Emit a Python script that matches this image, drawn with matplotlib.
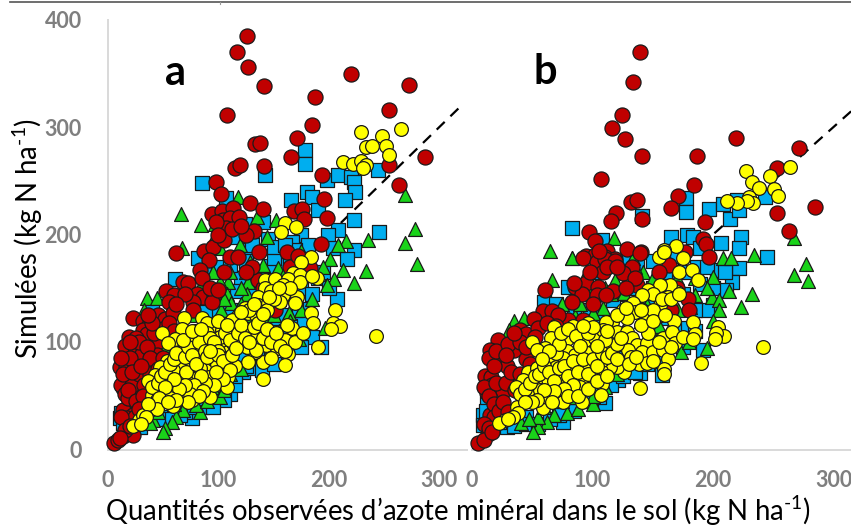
import matplotlib
matplotlib.use('Agg')
import matplotlib.pyplot as plt
from matplotlib.lines import Line2D

plt.rcParams['font.family'] = ['Lato', 'DejaVu Sans']
plt.rcParams['mathtext.fontset'] = 'custom'
plt.rcParams['mathtext.rm'] = 'Lato'
plt.rcParams['mathtext.default'] = 'regular'

x_ticks = [0, 100, 200, 300]
y_ticks = [0, 100, 200, 300, 400]
x_label = "Quantités observées d’azote minéral dans le sol (kg N ha$^{\\text{-1}}$)"
y_label = "Simulées (kg N ha$^{\\text{-1}}$)"

# panel a
a_red_x = [125.5, 117, 127, 141.5, 107.4, 187, 220, 272.7, 254.6, 185, 171.3, 133, 138, 166, 115, 119.5, 141.5, 286.9,
           254.6, 194, 263.3, 97.4, 102.6, 129, 140.6, 195.5, 168.6, 176, 177.7, 198, 93.8, 102.9, 112.8, 104.4, 110.4,
           119, 106.8, 132, 125, 192.5, 162.3, 137, 61.5, 87, 95.4, 91.7, 110, 118, 83.2, 105, 67.6, 72.7, 52.5, 59.7,
           55.5, 80.2, 86.3, 96, 93.8, 76.6, 76.6, 23, 32, 45.5, 51.5, 59, 37.5, 32, 35, 19.3, 25.4, 15.4, 24.1, 30.5,
           44, 44, 10.8, 16.2, 24.4, 17.5, 13.9, 26, 35, 30.5, 20, 13.9, 23, 13.9, 5.7, 9.4, 18.4, 16.9, 41, 151, 136,
           182.8, 23,
           12, 15, 18, 22, 28, 33, 38, 20, 14, 28, 20, 35, 38, 42, 50, 55, 60, 18, 25, 32, 24, 12, 15, 11, 20, 28, 40, 36,
           12, 22, 30, 45, 50, 105, 112, 98, 120, 100, 85, 92, 100, 70, 62, 130, 125, 140, 150, 165, 172]
a_red_y = [384.6, 369.8, 356, 338, 311, 328, 349, 339, 316, 301.5, 290, 284, 285.5, 272.5, 262, 265, 263.7, 272.5,
           264.7, 255, 246, 249, 237.7, 229, 223.7, 232.8, 222, 224, 214, 215, 219, 222, 225, 213.6, 215, 216.5, 206,
           203, 199.6, 191.5, 183.4, 183.4, 182.5, 185, 188, 176, 179, 179, 167, 165.4, 155.5, 154.6, 147.8, 143.7,
           137.5, 145, 142, 143.7, 137.5, 137.5, 130, 122, 120, 125, 121, 126.7, 116, 111.6, 107.4, 105, 103.4, 96, 95,
           88.8, 100, 88, 77, 77, 75.5, 66, 57, 58.4, 67.8, 46, 42.3, 36.7, 32, 12.6, 5.7, 8.8, 16.6, 29, 78.6, 130, 158,
           168.5, 13.4,
           60, 52, 48, 60, 70, 60, 70, 85, 70, 100, 100, 95, 85, 108, 112, 118, 110, 55, 45, 50, 30, 30, 18, 11, 22, 38, 118,
           125, 85, 72, 78, 75, 85, 195, 205, 212, 208, 200, 160, 150, 148, 145, 135, 170, 165, 150, 145, 170, 180]

a_blue_x = [84.8, 142, 178, 178, 198, 208.5, 220, 244, 223, 224, 214.5, 180, 184.6, 165.6, 190, 223, 208, 245.5, 199.4,
            175, 167, 181, 145, 140.6, 124, 115, 107, 223, 204, 169, 127, 216.6, 81.7, 60.6, 207, 120, 154, 146, 117,
            132, 180, 175, 152, 122, 131.5, 139, 192.5, 110, 105, 84.7, 75.7, 10.8, 12.2, 39.5, 95, 87.7, 152, 122.5,
            146.6, 28.9, 100, 110, 130, 160, 70, 60, 50, 95, 115, 40,
            90, 100, 110, 125, 135, 145, 155, 165, 175, 185, 190, 170, 165, 185, 160, 175, 135, 125, 115, 105, 95, 85, 75,
            65, 55, 45, 30, 20, 14, 100, 120, 140, 150, 110, 90, 70, 60, 80, 95, 110, 125, 140, 160, 170, 180, 195, 200,
            150, 130, 150, 165, 160]
a_blue_y = [247.6, 255, 279, 265.5, 251, 255.4, 253.7, 260, 249, 240, 232, 240, 234.6, 232, 222.8, 213.5, 204, 202,
            199.6, 200, 193, 190, 195.5, 212, 210, 198, 233.7, 186, 187, 185.6, 185.6, 177, 178, 159, 139.7, 160, 171.6,
            171, 147, 145, 131, 120, 116, 72.4, 75.5, 74, 95.6, 52, 46, 39.8, 29, 29, 33.6, 132.8, 130, 128, 122, 92.5,
            83, 21, 66, 84, 120, 150, 35, 45, 30, 40, 60, 28,
            165, 170, 172, 175, 165, 155, 150, 145, 150, 145, 160, 130, 115, 105, 100, 95, 90, 78, 68, 60, 55, 48, 40, 32,
            28, 28, 32, 30, 25, 75, 88, 100, 80, 95, 70, 55, 62, 95, 115, 130, 125, 125, 125, 165, 175, 165, 150, 178, 190,
            188, 175, 190]

a_green_x = [65.8, 83.9, 118, 268.8, 277.8, 268.8, 235, 215.4, 208.5, 201, 134.5, 152, 143.6, 119.5, 95.4, 101.4, 66.7,
             96.8, 115.8, 280, 233.5, 223, 213, 205, 198, 128.5, 140, 153.5, 127, 109, 108, 126, 111, 101.5, 35, 44,
             32.6, 102, 164, 196, 83, 80, 101, 94, 68, 62, 57.6, 51.5, 50, 41, 173, 144, 52, 74, 90, 130, 70, 120, 155,
             85,
             110, 120, 135, 150, 115, 100, 90, 75, 60, 55, 50, 70, 85, 95, 110, 120, 80, 70, 60, 90, 105, 45, 38, 130, 145,
             165, 175, 185, 155, 140, 125, 95, 85, 105, 195, 175, 160, 150]
a_green_y = [219, 209, 235, 236.8, 204.8, 191.8, 195, 194, 190, 177, 216, 213.5, 198, 190, 195, 187, 187, 210, 207, 173,
             166, 155, 167, 159, 153, 174.8, 171.6, 168.5, 155.5, 155.5, 145, 145, 136.6, 156, 141, 141, 130, 130,
             126.7, 112.7, 35, 41, 49, 58, 36.7, 30.5, 26, 19.7, 16.6, 27, 103, 119, 97, 148, 105, 125, 65, 135, 110, 150,
             165, 150, 135, 125, 125, 110, 120, 125, 100, 85, 75, 75, 65, 75, 70, 75, 55, 48, 42, 45, 55, 35, 25, 95, 90,
             120, 130, 140, 140, 155, 165, 165, 155, 140, 170, 185, 165, 105]

a_yellow_x = [228.7, 265, 248, 233.5, 239, 251.6, 254.6, 213, 221.4, 229, 234, 230.5, 160, 170, 157, 183.4, 175, 142,
              151, 167.7, 173.8, 163, 158.7, 173.8, 189, 184.6, 142, 148, 158.7, 171, 156, 169, 136, 136, 145, 124, 127,
              134, 143.6, 116.4, 112, 84.7, 69, 66.7, 49, 61, 54.7, 79, 94.4, 103, 89.3, 113, 121, 128.5, 137.6, 146.6,
              133, 118.6, 103, 78.7, 86.3, 95.4, 109, 143, 152.7, 160, 169, 167, 161.7, 184, 185.8, 176.8, 205.5, 204,
              210, 201.8, 242.5, 190, 163, 160, 140.6, 140, 148, 133, 127, 115, 109, 107.4, 92.3, 101.4, 92.3, 91, 80,
              84.2, 95.4, 107.4, 66.7, 65, 67.4, 53, 47, 42.6, 53, 36.5, 66.7, 60, 72.7, 50, 39.5, 53, 49, 69.7, 77, 75.7,
              65, 59, 42.6, 38, 28, 23, 32, 74, 83, 101.4, 113, 125.4, 134.4, 89.3, 75.7, 98.4, 59, 83.2, 71, 45, 44,
              40, 45, 48, 52, 56, 60, 62, 70, 72, 76, 80, 82, 88, 90, 92, 96, 100, 100, 104, 106, 110, 112, 116, 118, 120,
              124, 128, 132, 136, 140, 144, 148, 152, 156, 160, 128, 132, 120, 140, 150, 165, 155, 146, 110, 104, 98, 96,
              88, 84, 78, 74, 70, 64, 60, 56, 52, 46, 44, 36, 34, 30, 86, 82, 72, 62, 54, 92, 68, 76, 84, 100, 108]
a_yellow_y = [295.6, 298, 291.6, 281, 282, 282, 274, 267, 265.5, 268.6, 264.7, 261.6, 211, 207, 202.6, 178.7, 174.7, 158,
              159, 163.8, 162, 159, 153, 156, 160, 161, 150, 147, 143.7, 142, 137.5, 136, 141.5, 134.4, 136.6, 132, 126.7,
              125, 130, 123.6, 120.5, 122.6, 122, 112, 108, 102.5, 98.8, 110.5, 111.8, 111, 117.4, 111, 110, 111, 110,
              106.5, 103.4, 101, 98, 95.7, 100, 95.7, 91, 97, 94, 102, 100, 113, 116, 126.7, 117.4, 108.7, 129.8, 118, 115,
              111.8, 106, 95.7, 88.8, 78.6, 66, 81.7, 84.8, 91, 81.7, 78, 67.7, 57.8, 49, 72.4, 74.6, 67.7, 67.7, 84, 84,
              84.8, 91, 80, 77, 82.6, 77, 69.3, 67.7, 64, 66, 60, 61.5, 58.4, 50.7, 52, 49, 55.3, 55, 46, 52, 40.8, 41.4,
              36.7, 27.4, 22, 32, 102, 89.5, 105, 98.8, 95.7, 92.5, 108, 78.6, 80, 74, 75.5, 72.4, 55, 46,
              58, 62, 68, 72, 80, 84, 90, 86, 95, 88, 80, 100, 92, 86, 104, 100, 92, 88, 82, 108, 102, 88, 94, 108, 116,
              104, 100, 114, 118, 104, 112, 100, 108, 96, 92, 130, 135, 128, 126, 140, 150, 150, 142, 74, 66, 72, 60, 62,
              68, 60, 52, 60, 56, 66, 48, 58, 48, 38, 42, 30, 24, 54, 50, 44, 46, 44, 92, 102, 110, 112, 120, 116]

# panel b
b_red_x = [139.7, 133.6, 124.8, 116, 127, 140.8, 186.4, 219, 271, 253.4, 106.8, 184.5, 170.7, 165.4, 132, 137.2, 119.2,
           115.6, 140.8, 193, 285, 253.4, 262.8, 97, 102, 128.4, 140, 192, 194, 197, 176.8, 111.8, 95, 102, 110.4, 118.7,
           92.4, 103.4, 110, 118.7, 109, 132.5, 125, 163.8, 139.4, 60.9, 85.5, 94.4, 104.3, 136.7, 91, 83.3, 103.4,
           117.3, 110.9, 58.6, 66.7, 51.7, 39.8, 44.8, 55, 21.9, 36.5, 15, 23.8, 34.9, 14.1, 24.1, 28.8, 44.5, 10.8, 15.5,
           16.3, 12.2, 26, 19.9, 15, 33, 13.5, 5.3, 150.5, 179.5, 80, 92.4, 71.6,
           10, 14, 18, 20, 28, 32, 18, 20, 30, 28, 40, 45, 52, 35, 62, 70, 18, 22, 26, 10, 14, 10, 17, 30, 36, 40, 48, 100,
           85, 98, 105, 112, 120, 135, 128, 140, 155, 165, 170, 180, 155]
b_red_y = [369.5, 342, 311.5, 298.8, 288.5, 273.3, 273.3, 289.4, 280.8, 261.9, 251.6, 245.7, 235.8, 225, 230.6, 232,
           220.3, 212.9, 214.4, 212, 226, 219.8, 203.6, 202.6, 194.3, 186.5, 183.4, 195.5, 191, 179.4, 184, 185, 180, 181,
           179, 177, 178, 174.7, 177, 175.7, 165.4, 169.5, 164, 171.6, 182.5, 148.4, 151.5, 155, 151.5, 153, 144.6, 136.9,
           143.7, 147.8, 143.7, 128.9, 128.9, 121.4, 111, 107.4, 112.7, 101.9, 99, 92.5, 89.5, 92.5, 84.8, 82.6, 77.7,
           83.9, 68.4, 67.7, 60, 52.2, 54.7, 38.3, 32, 67.7, 14, 6.4, 122, 139.6, 120.5, 120.5, 125,
           58, 50, 42, 62, 62, 72, 78, 92, 98, 88, 100, 95, 105, 108, 118, 115, 30, 36, 44, 24, 20, 9, 16, 35, 55, 70, 80,
           135, 155, 165, 185, 170, 170, 160, 150, 130, 125, 130, 150, 130, 165]

b_blue_x = [83.3, 107.6, 141.4, 177.6, 177.6, 196.4, 208, 214, 221.9, 219.6, 243, 164.9, 178, 183.7, 189, 207, 223, 221.9,
            245, 221.9, 216, 203, 200, 211, 192, 175.4, 80, 59.8, 189, 125.6, 121.4, 139.4, 110.4, 158, 105.7, 9.4, 9.4,
            75.2, 28.8, 12.2, 120, 161.5, 98, 117.3, 147.7, 179.5, 136.7, 186.4, 90, 60, 45, 130, 110, 150, 75,
            12, 16, 22, 35, 45, 55, 65, 72, 85, 95, 105, 115, 125, 135, 145, 155, 175, 185, 195, 185, 175, 165, 160, 150,
            125, 100, 90, 70, 85, 105, 130, 150, 160, 150, 125, 110, 95, 80, 145, 200, 195, 210, 170, 180]
b_blue_y = [205.8, 195, 217, 233.6, 221, 223.4, 228, 214, 223, 232, 235, 197.4, 199.6, 197.4, 187, 191.8, 197.9, 187,
            178.8, 168.5, 156, 167, 134.4, 148, 92.5, 111, 150.8, 137.5, 154, 95.7, 64.6, 70.8, 43.6, 69, 49, 32, 22.8,
            25.9, 21, 43, 145, 122, 130, 139, 111, 112.7, 171.6, 170, 60, 45, 30, 80, 60, 120, 50,
            36, 28, 26, 22, 24, 24, 28, 32, 36, 45, 55, 60, 68, 72, 80, 84, 95, 110, 130, 130, 145, 155, 165, 175, 175, 165,
            150, 135, 130, 125, 150, 150, 105, 105, 85, 70, 60, 50, 140, 150, 170, 165, 180, 165]

b_green_x = [64.7, 117.8, 267.5, 234, 208, 214.7, 83.3, 133.9, 277, 267.5, 279, 232.7, 213, 200.3, 198.9, 205, 205, 223,
             194.7, 173.5, 66, 94.6, 82.7, 142, 126, 118.7, 109, 100.7, 34.9, 43, 31, 85.5, 100.7, 78.6, 68, 62, 55, 50.9,
             41, 185, 180.9, 171, 145, 147.7, 84,
             90, 100, 115, 130, 140, 155, 165, 125, 108, 95, 80, 70, 60, 75, 88, 100, 110, 120, 135, 150, 170, 180, 160,
             150, 135, 110, 75, 55, 47, 60, 195, 185, 170, 160, 90, 200]
b_green_y = [184.9, 196.4, 196.4, 180.9, 177.8, 177.8, 177.8, 177.8, 172.6, 162.3, 157, 144.6, 147.7, 160.8, 141.5, 139,
             129.8, 132.8, 94, 91, 158, 163, 177.8, 165.4, 146, 157.7, 131.3, 126.7, 119.8, 122, 111, 124, 42, 33.6, 32,
             25.9, 21, 16.6, 25, 143.7, 132.8, 129.8, 134.4, 112.8, 49,
             135, 150, 145, 135, 120, 115, 115, 110, 110, 90, 80, 70, 55, 45, 38, 50, 58, 70, 85, 90, 105, 100, 130, 160,
             170, 150, 135, 30, 28, 40, 150, 160, 160, 150, 60, 120]

b_yellow_x = [227.4, 232, 238.5, 247.3, 263.6, 250.6, 253.7, 230, 232.9, 228, 220, 211.9, 169.3, 159.6, 155.5, 175.4, 159,
              171.8, 182.8, 187.8, 169.8, 164.3, 156, 146.3, 150, 140.8, 162.9, 156, 133.9, 125, 135.3, 144, 128.4, 115.9,
              110.9, 96.5, 84, 68.3, 65.5, 49.5, 60.6, 53.7, 78.6, 93.8, 78.6, 102, 109, 120, 128.4, 132.5, 102, 95.2, 117.8,
              111.8, 136.7, 145, 140.8, 129.7, 131.7, 150.5, 158.8, 167.9, 165.7, 168.5, 158.8, 162.4, 159.4, 159.4, 138.6,
              145.5, 175.4, 183.7, 185, 183.7, 204.4, 209, 202.5, 201.7, 241.8, 189.8, 139.4, 126.4, 120, 114.5, 106.8,
              107.6, 95.2, 85.5, 75.8, 65.3, 46.7, 42.6, 36.5, 53.7, 64.7, 74.4, 84, 92.4, 100.7, 108, 107, 91.6, 70.2, 79.9,
              60.6, 52.3, 48.1, 42.6, 37, 58.6, 75.8, 27.4, 22.7, 62, 56.4, 89.6, 70, 92.4, 81.3,
              40, 44, 48, 52, 56, 60, 64, 68, 72, 76, 80, 84, 88, 92, 96, 100, 104, 108, 112, 116, 120, 124, 70, 72, 74, 80,
              86, 90, 96, 100, 84, 76, 68, 60, 54, 50, 44, 38, 34, 30, 66, 80, 88, 96, 104, 112, 120, 130, 136, 150, 146,
              140, 150, 158, 165, 172, 120, 128, 140, 150, 160, 165, 155, 110, 92, 64, 58, 112, 104]
b_yellow_y = [259.4, 249, 243, 254.7, 263, 242, 236, 235, 229, 231.5, 229, 231.5, 189.6, 185.6, 179.4, 177.8, 184, 165.4,
              167, 158, 146.8, 153, 153, 148.4, 144.7, 143.7, 142, 134.4, 136, 129.8, 128.2, 125, 122, 118.9, 118.9, 118,
              114.9, 113.7, 103.4, 100.3, 94, 92.5, 102.5, 101.9, 91.9, 104, 111, 109.6, 109.6, 103.4, 91.9, 89.5, 97.2,
              95.6, 97, 98.8, 91, 92.5, 86.4, 91, 103.4, 119.5, 109.6, 98.8, 93, 83.9, 74.6, 70.2, 79.2, 80.8, 105, 119,
              107.4, 102.5, 114.3, 105.9, 108, 102.5, 95.7, 80.2, 56.9, 72.4, 77, 77, 73.3, 83.2, 80.2, 87.9, 84.8, 83.9,
              72.4, 64.6, 58.4, 75.5, 67.7, 69.3, 70.2, 66.2, 67.7, 60.6, 50.7, 43.9, 49.8, 63, 61.5, 61.5, 50, 46, 39.8,
              38.3, 44.5, 27.4, 24.3, 49, 55.3, 58.4, 77, 77, 78.6,
              52, 56, 62, 68, 70, 78, 72, 64, 76, 78, 68, 82, 72, 84, 70, 84, 78, 90, 86, 90, 98, 104, 90, 98, 108, 112, 106,
              96, 108, 114, 60, 56, 54, 55, 46, 44, 44, 34, 30, 28, 44, 50, 50, 56, 64, 68, 84, 80, 86, 82, 108, 116, 130,
              140, 140, 145, 125, 132, 130, 120, 125, 95, 100, 102, 115, 92, 84, 110, 96]

W, H = 851, 527
fig = plt.figure(figsize=(W / 100, H / 100), dpi=100)

# px: left, right of each panel, y=0 at 449.5, y=400 at 19.5
ax_a = fig.add_axes([108 / W, (H - 449.5) / H, 359 / W, 430 / H])
ax_b = fig.add_axes([472 / W, (H - 449.5) / H, 379 / W, 430 / H])
ax_a.set_xlim(0, 325)
ax_b.set_xlim(0, 314.5)


def draw_panel(ax, blue, green, red, yellow):
    ax.set_ylim(0, 400)
    ax.plot([0, 321], [0, 321], color='black', lw=1.6, dashes=(5, 3.6), zorder=1)
    ax.scatter(blue[0], blue[1], marker='s', s=92, c='#00AEEF', edgecolors='#1a1a1a', linewidths=0.9, zorder=2, clip_on=False)
    ax.scatter(green[0], green[1], marker='^', s=100, c='#19D319', edgecolors='#1a1a1a', linewidths=0.9, zorder=3, clip_on=False)
    ax.scatter(red[0], red[1], marker='o', s=118, c='#C00000', edgecolors='#1a1a1a', linewidths=0.9, zorder=4, clip_on=False)
    ax.scatter(yellow[0], yellow[1], marker='o', s=98, c='#FFFF00', edgecolors='#1a1a1a', linewidths=0.9, zorder=5, clip_on=False)
    for s in ['top', 'right']:
        ax.spines[s].set_visible(False)
    ax.spines['bottom'].set_color('#d9d9d9')
    ax.spines['bottom'].set_linewidth(1.4)
    ax.set_xticks(x_ticks)
    ax.tick_params(axis='x', length=0, pad=15, labelsize=15.5, labelcolor='#7f7f7f')
    for t in ax.get_xticklabels():
        t.set_fontweight('bold')


draw_panel(ax_a, (a_blue_x, a_blue_y), (a_green_x, a_green_y), (a_red_x, a_red_y), (a_yellow_x, a_yellow_y))
draw_panel(ax_b, (b_blue_x, b_blue_y), (b_green_x, b_green_y), (b_red_x, b_red_y), (b_yellow_x, b_yellow_y))

ax_a.spines['left'].set_color('#d9d9d9')
ax_a.spines['left'].set_linewidth(1.4)
ax_a.set_yticks(y_ticks)
ax_a.tick_params(axis='y', length=0, pad=19, labelsize=15.5, labelcolor='#7f7f7f')
for t in ax_a.get_yticklabels():
    t.set_fontweight('bold')
ax_b.spines['left'].set_visible(False)
ax_b.set_yticks([])

fig.text(175 / W, 1 - 73 / H, 'a', fontsize=30, fontweight='bold', ha='center', va='center')
fig.text(545 / W, 1 - 72 / H, 'b', fontsize=30, fontweight='bold', ha='center', va='center')
fig.text(458 / W, 1 - 511 / H, x_label, fontsize=19.8, ha='center', va='center')
fig.text(28 / W, 1 - 238 / H, y_label, fontsize=19.8, rotation=90, ha='center', va='center')

# dark rule along the top edge of the picture
fig.add_artist(Line2D([10 / W, 1], [1 - 1.5 / H, 1 - 1.5 / H], color='#555555', lw=1.2))
fig.add_artist(Line2D([220 / W, 220 / W], [1 - 1.5 / H, 1 - 4 / H], color='#999999', lw=0.8))

fig.savefig('out.png', dpi=100)
